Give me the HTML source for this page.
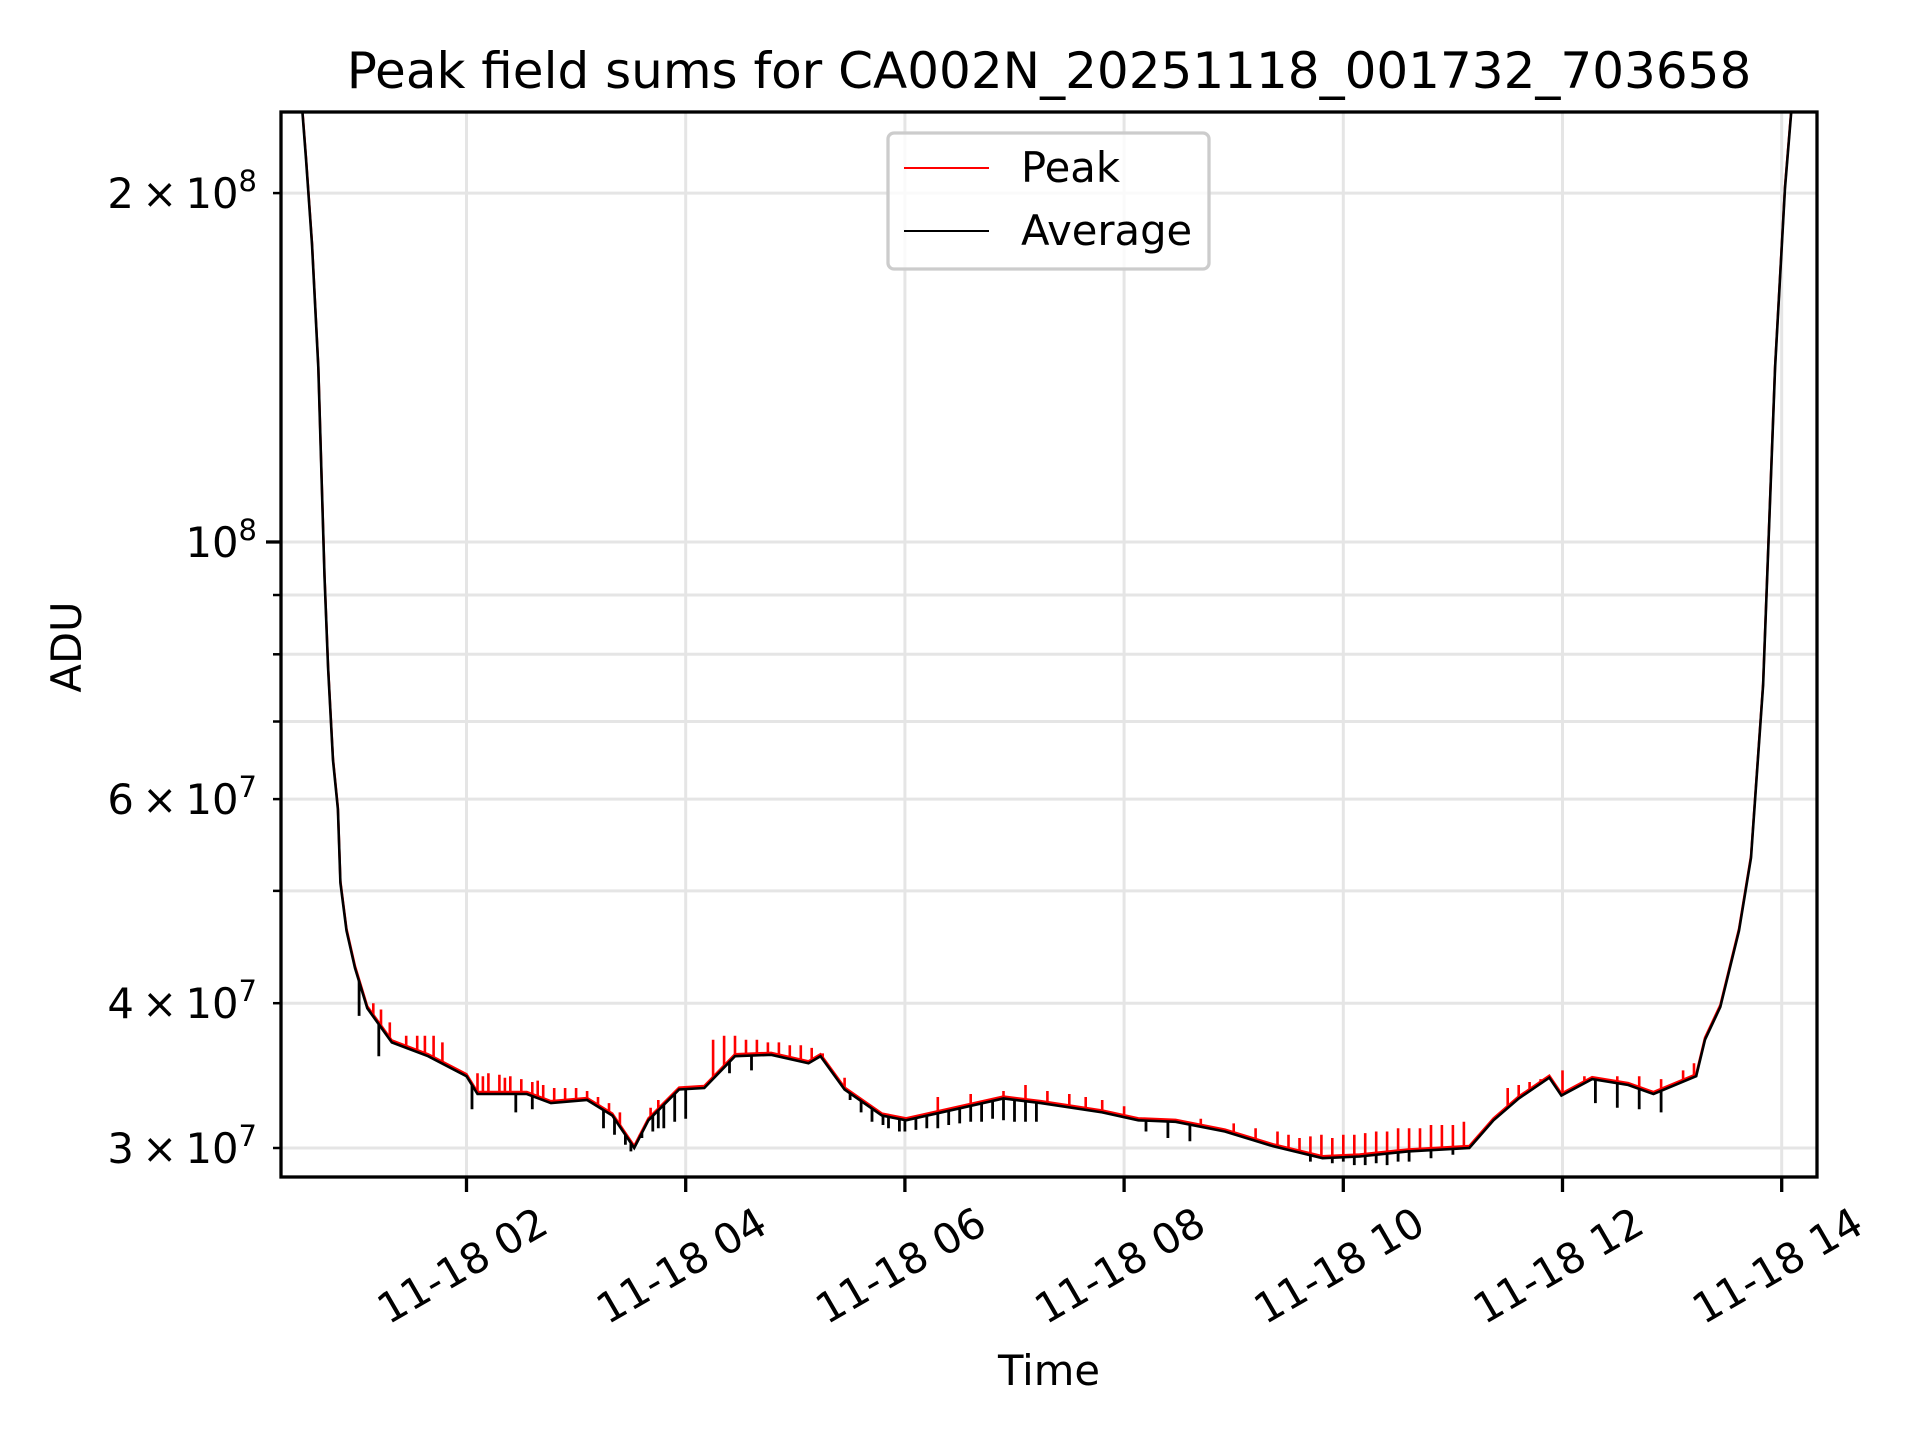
<!DOCTYPE html>
<html><head><meta charset="utf-8"><style>
html,body{margin:0;padding:0;background:#fff;width:1920px;height:1440px;overflow:hidden}
svg text{font-family:"DejaVu Sans","Liberation Sans",sans-serif;fill:#000}
</style></head><body>
<svg id="chart" width="1920" height="1440" viewBox="0 0 1920 1440">
<defs><clipPath id="clip"><rect x="281" y="112" width="1536" height="1065"/></clipPath></defs>
<rect x="0" y="0" width="1920" height="1440" fill="#fff"/>
<g id="grid"></g>
<g id="series" clip-path="url(#clip)"></g>
<rect x="281" y="112" width="1536" height="1065" fill="none" stroke="#000" stroke-width="3.3"/>
<g id="ticks"></g>
<text x="1049" y="88" font-size="50" text-anchor="middle">Peak field sums for CA002N_20251118_001732_703658</text>
<text x="1049" y="1385" font-size="41.7" text-anchor="middle">Time</text>
<text x="0" y="0" font-size="41.7" text-anchor="middle" transform="translate(81,647) rotate(-90)">ADU</text>
<g>
<rect x="888" y="133" width="321" height="136" rx="6" fill="#fff" fill-opacity="0.8" stroke="#ccc" stroke-width="3.3"/>
<line x1="904" y1="168" x2="989" y2="168" stroke="#f00" stroke-width="2"/>
<text x="1021" y="182" font-size="41.7">Peak</text>
<line x1="904" y1="231" x2="989" y2="231" stroke="#000" stroke-width="2"/>
<text x="1021" y="245" font-size="41.7">Average</text>
</g>
</svg>
<script>
// Data (hours since 2025-11-18 00:00, values in units of 1e7 ADU)
const avgT = [0.45,0.503,0.536,0.59,0.648,0.704,0.737,0.782,0.827,0.849,0.905,0.983,1.095,1.318,1.65,2.0,2.1,2.55,2.77,3.1,3.33,3.53,3.66,3.94,4.17,4.45,4.78,5.12,5.23,5.45,5.79,6.01,6.46,6.9,7.24,7.8,8.13,8.47,8.92,9.36,9.81,10.15,10.59,11.15,11.37,11.6,11.88,11.99,12.27,12.6,12.83,13.22,13.30,13.44,13.61,13.72,13.83,13.94,14.03,14.11,14.2];
const avgV = [30,23.5,21.4,18.06,14.15,9.34,7.78,6.48,5.88,5.08,4.62,4.29,3.96,3.70,3.60,3.46,3.34,3.34,3.28,3.30,3.20,3.00,3.17,3.37,3.38,3.60,3.61,3.55,3.60,3.37,3.20,3.17,3.24,3.31,3.28,3.22,3.17,3.16,3.10,3.01,2.94,2.95,2.98,3.00,3.17,3.31,3.45,3.33,3.44,3.40,3.34,3.46,3.72,3.97,4.62,5.34,7.52,14.15,20.2,25,30];
const peakSpikeT = [1.15,1.22,1.3,1.45,1.55,1.62,1.7,1.78,2.1,2.15,2.2,2.3,2.35,2.4,2.5,2.6,2.65,2.7,2.8,2.9,3.0,3.1,3.2,3.3,3.4,3.58,3.68,3.75,4.25,4.35,4.45,4.55,4.65,4.75,4.85,4.95,5.05,5.15,5.25,5.45,5.6,6.3,6.6,6.9,7.1,7.3,7.5,7.65,7.8,8.0,8.7,9.0,9.2,9.4,9.5,9.6,9.7,9.8,9.9,10.0,10.1,10.2,10.3,10.4,10.5,10.6,10.7,10.8,10.9,11.0,11.1,11.5,11.6,11.7,11.8,12.0,12.2,12.5,12.7,12.9,13.1,13.2];
const peakSpikeV = [4.0,3.95,3.85,3.75,3.75,3.75,3.75,3.70,3.48,3.46,3.48,3.47,3.45,3.46,3.44,3.42,3.43,3.40,3.38,3.38,3.38,3.36,3.32,3.28,3.22,3.08,3.25,3.30,3.72,3.75,3.75,3.72,3.72,3.70,3.70,3.68,3.68,3.66,3.62,3.45,3.30,3.32,3.34,3.36,3.40,3.36,3.34,3.32,3.30,3.26,3.18,3.15,3.12,3.10,3.08,3.06,3.07,3.08,3.06,3.08,3.08,3.09,3.10,3.10,3.12,3.12,3.12,3.14,3.14,3.14,3.16,3.38,3.40,3.42,3.44,3.50,3.46,3.46,3.46,3.44,3.50,3.55];
const dipT = [1.02,1.2,2.05,2.45,2.6,3.25,3.35,3.45,3.5,3.6,3.7,3.75,3.8,3.9,4.0,4.4,4.6,5.5,5.6,5.7,5.8,5.85,5.95,6.0,6.1,6.2,6.3,6.4,6.5,6.6,6.7,6.8,6.9,7.0,7.1,7.2,8.2,8.4,8.6,9.7,9.9,10.0,10.1,10.2,10.3,10.4,10.5,10.6,10.8,11.0,12.3,12.5,12.7,12.9];
const dipV = [3.9,3.6,3.24,3.22,3.24,3.12,3.08,3.02,2.98,3.06,3.10,3.12,3.12,3.16,3.18,3.48,3.50,3.30,3.22,3.16,3.14,3.12,3.10,3.10,3.11,3.12,3.12,3.14,3.15,3.16,3.16,3.18,3.17,3.16,3.16,3.16,3.10,3.06,3.04,2.92,2.91,2.92,2.90,2.90,2.91,2.90,2.92,2.92,2.94,2.96,3.28,3.25,3.24,3.22];
const xTickHours = [2,4,6,8,10,12,14];
const xTickLabels = ["11-18 02","11-18 04","11-18 06","11-18 08","11-18 10","11-18 12","11-18 14"];
const yGridVals = [3,4,5,6,7,8,9,10,20];
const yLabelMant = ["3","4","","6","","","","","2"];
const yLabelExp = ["7","7","","7","","","","8","8"];

const NS="http://www.w3.org/2000/svg";
function xs(h){return 466.5+(h-2)*109.6;}
function ys(v){return 1148-(Math.log10(v)-Math.log10(3))*1159;}
function interp(t){
  for(let i=0;i<avgT.length-1;i++){
    if(t>=avgT[i]&&t<=avgT[i+1]){
      const f=(t-avgT[i])/(avgT[i+1]-avgT[i]);
      return Math.exp(Math.log(avgV[i])*(1-f)+Math.log(avgV[i+1])*f);
    }
  }
  return avgV[avgV.length-1];
}
function mk(tag,attrs,parent){const e=document.createElementNS(NS,tag);for(const k in attrs)e.setAttribute(k,attrs[k]);parent.appendChild(e);return e;}
const grid=document.getElementById('grid'),series=document.getElementById('series'),ticks=document.getElementById('ticks');

yGridVals.forEach((v,i)=>{
  const y=ys(v);
  const g=mk('line',{x1:281,x2:1817,y1:y,y2:y,stroke:'#e5e5e5','stroke-width':3},grid);
  
  
  const major=(v===10);
  const t=mk('line',{x1:major?266:273,x2:281,y1:y,y2:y,stroke:'#000','stroke-width':major?3.3:2.5},ticks);
  
  
  if(yLabelExp[i]){
    const tx=mk('text',{x:257,y:y+15,'font-size':41.7,'text-anchor':'end'},ticks);
    
    
    tx.textContent=(yLabelMant[i]?yLabelMant[i]+'\u2009\u00d7\u200910':'10');
    const sp=document.createElementNS(NS,'tspan');
    sp.setAttribute('dy','-17');sp.setAttribute('font-size','29');
    sp.textContent=yLabelExp[i];
    tx.appendChild(sp);
  }
});
xTickHours.forEach((h,i)=>{
  const x=xs(h);
  const g=mk('line',{x1:x,x2:x,y1:112,y2:1177,stroke:'#e5e5e5','stroke-width':3},grid);
  
  
  const t=mk('line',{x1:x,x2:x,y1:1177,y2:1192,stroke:'#000','stroke-width':3.3},ticks);
  
  
  const tx=mk('text',{x:0,y:14,'font-size':41.7,'text-anchor':'middle',transform:`translate(${x-4},1266) rotate(-30)`},ticks);
  
  
  tx.textContent=xTickLabels[i];
});
// Peak series: base line + upward spikes
let pd=avgT.map((t,i)=>(i?'L':'M')+xs(t).toFixed(1)+','+(ys(avgV[i])-2).toFixed(1)).join('');
const pl=mk('path',{d:pd,fill:'none',stroke:'#f00','stroke-width':2.4},series);


let sd='';
peakSpikeT.forEach((t,i)=>{const x=xs(t);sd+='M'+x.toFixed(1)+','+ys(interp(t)).toFixed(1)+'L'+x.toFixed(1)+','+ys(peakSpikeV[i]).toFixed(1);});
const ps=mk('path',{d:sd,fill:'none',stroke:'#f00','stroke-width':2.6},series);


// Average series
let ad=avgT.map((t,i)=>(i?'L':'M')+xs(t).toFixed(1)+','+ys(avgV[i]).toFixed(1)).join('');
const al=mk('path',{d:ad,fill:'none',stroke:'#000','stroke-width':2.6},series);


let dd='';
dipT.forEach((t,i)=>{const x=xs(t);dd+='M'+x.toFixed(1)+','+ys(interp(t)).toFixed(1)+'L'+x.toFixed(1)+','+ys(dipV[i]).toFixed(1);});
const ds=mk('path',{d:dd,fill:'none',stroke:'#000','stroke-width':2.8},series);


</script>
</body></html>
